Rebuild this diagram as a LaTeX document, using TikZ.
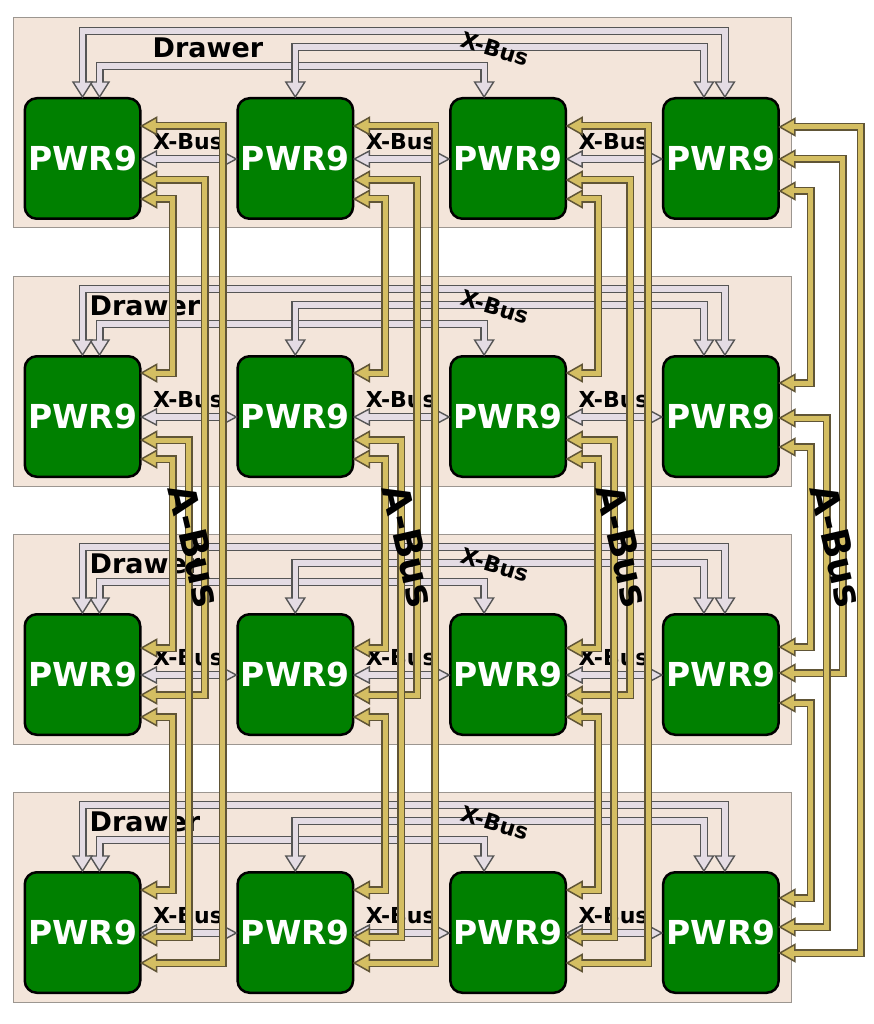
\documentclass[tikz,border=0pt]{standalone}
\usepackage{fontspec}
\setmainfont{DejaVu Sans}
\usetikzlibrary{calc}
\definecolor{drawerfill}{HTML}{F3E5DA}
\definecolor{drawerline}{HTML}{9C9690}
\definecolor{chipgreen}{HTML}{008000}
\definecolor{afill}{HTML}{D4BE62}
\definecolor{aline}{HTML}{605536}
\definecolor{xfill}{HTML}{E4DCE4}
\definecolor{xline}{HTML}{555555}
\tikzset{
 drawerbox/.style={fill=drawerfill, draw=drawerline, line width=1pt},
 chip/.style={rectangle, rounded corners=12pt, fill=chipgreen, draw=black, line width=2.5pt,
   minimum width=115.5pt, minimum height=120.5pt, inner sep=0pt, text=white,
   font=\bfseries\fontsize{33}{33}\selectfont},
 drawerlabel/.style={inner sep=0pt, font=\bfseries\fontsize{27}{27}\selectfont},
 xlabel/.style={inner sep=0pt, font=\bfseries\fontsize{22}{22}\selectfont},
 alabel/.style={inner sep=0pt, rotate=-77, font=\bfseries\fontsize{38}{38}\selectfont},
 aouter/.style={draw=aline, line width=8pt},
 ainner/.style={draw=afill, line width=5pt},
 xouter/.style={draw=xline, line width=8pt},
 xinner/.style={draw=xfill, line width=5.2pt},
 aheadL/.pic={\filldraw[fill=afill, draw=aline, line width=1.5pt] (0,0) -- (15,-8.5) -- (15,8.5) -- cycle;},
 xheadL/.pic={\filldraw[fill=xfill, draw=xline, line width=1.4pt] (0,0) -- (15,-8) -- (15,8) -- cycle;},
 xheadR/.pic={\filldraw[fill=xfill, draw=xline, line width=1.4pt] (0,0) -- (-15,-8) -- (-15,8) -- cycle;},
 xheadD/.pic={\filldraw[fill=xfill, draw=xline, line width=1.4pt] (0,0) -- (-9.5,-15) -- (9.5,-15) -- cycle;},
}
% A-bus link: column, drawer a, offset a, drawer b, offset b, lane offset
\newcommand\alink[6]{%
  \coordinate (pa) at ($(c#2#1.north east)+(0,#3)$);
  \coordinate (pb) at ($(c#4#1.north east)+(0,#5)$);
  \draw[aouter] ($(pa)+(14,0)$) -- ($(pa)+(#6,0)$) |- ($(pb)+(14,0)$);
  \pic at (pa) {aheadL};
  \pic at (pb) {aheadL};
  \draw[ainner] ($(pa)+(11,0)$) -- ($(pa)+(#6,0)$) |- ($(pb)+(11,0)$);
}
% X-bus loop over the top: drawer, chip a, dx a, chip b, dx b, height
\newcommand\xloop[6]{%
  \coordinate (qa) at ($(c#1#2.north west)+(#3,0)$);
  \coordinate (qb) at ($(c#1#4.north west)+(#5,0)$);
  \draw[xouter] ($(qa)+(0,-14)$) -- ($(qa)+(0,-#6)$) -| ($(qb)+(0,-14)$);
  \pic at (qa) {xheadD};
  \pic at (qb) {xheadD};
  \draw[xinner] ($(qa)+(0,-11)$) -- ($(qa)+(0,-#6)$) -| ($(qb)+(0,-11)$);
}
% X-bus between neighbours: drawer, chip, next chip
\newcommand\xh[3]{%
  \coordinate (ha) at ($(c#1#2.north east)+(0,62)$);
  \coordinate (hb) at ($(c#1#3.north west)+(0,62)$);
  \node[xlabel] (xl#1#2) at ($(c#1#2.north east)+(46.5,45)$) {X-Bus};
  \draw[xouter] ($(ha)+(14,0)$) -- ($(hb)+(-14,0)$);
  \pic at (ha) {xheadL};
  \pic at (hb) {xheadR};
  \draw[xinner] ($(ha)+(11,0)$) -- ($(hb)+(-11,0)$);
}
\begin{document}
\begin{tikzpicture}[x=1pt,y=-1pt]
\useasboundingbox (0,0) rectangle (873,1024);
% drawers
\foreach \d in {1,...,4} {
  \path[drawerbox] (13,{18+258*(\d-1)}) rectangle (791,{228+258*(\d-1)});
}
\node[drawerlabel] (dl1) at (208,48) {Drawer};
\foreach \d in {2,3,4} {
  \node[drawerlabel] (dl\d) at (145,{48+258*(\d-1)}) {Drawer};
}
% chips
\foreach \d in {1,...,4} {
  \foreach \i in {1,...,4} {
    \node[chip] (c\d\i) at ({82.5+212.8*(\i-1)},{158.5+258*(\d-1)}) {PWR9};
  }
}
% X-bus loops and labels
\foreach \d in {1,...,4} {
  \xloop{\d}{1}{76}{3}{35}{31}
  \xloop{\d}{1}{59}{4}{63}{66}
  \xloop{\d}{2}{59}{4}{42}{50}
  \node[xlabel, rotate=-17] (xr\d) at ($(c\d3.north west)+(46,-48)$) {X-Bus};
}
% X-bus between neighbours
\foreach \d in {1,...,4} {
  \xh{\d}{1}{2}
  \xh{\d}{2}{3}
  \xh{\d}{3}{4}
}
% A-bus, columns 1-3
\foreach \i in {1,2,3} {
  \alink{\i}{1}{29}{4}{92}{81}
  \alink{\i}{1}{83}{3}{82}{63}
  \alink{\i}{2}{85}{4}{66}{47}
  \alink{\i}{1}{102}{2}{18}{31}
  \alink{\i}{2}{104}{3}{35}{31}
  \alink{\i}{3}{104}{4}{19}{31}
}
% A-bus, column 4
\alink{4}{1}{30}{4}{82}{81}
\alink{4}{1}{62}{3}{60}{63}
\alink{4}{2}{63}{4}{56}{47}
\alink{4}{1}{94}{2}{28}{31}
\alink{4}{2}{92}{3}{34}{31}
\alink{4}{3}{90}{4}{27}{31}
% A-bus labels
\foreach \i in {1,...,4} {
  \node[alabel] (al\i) at ({195+214*(\i-1)},546) {A-Bus};
}
\end{tikzpicture}
\end{document}
